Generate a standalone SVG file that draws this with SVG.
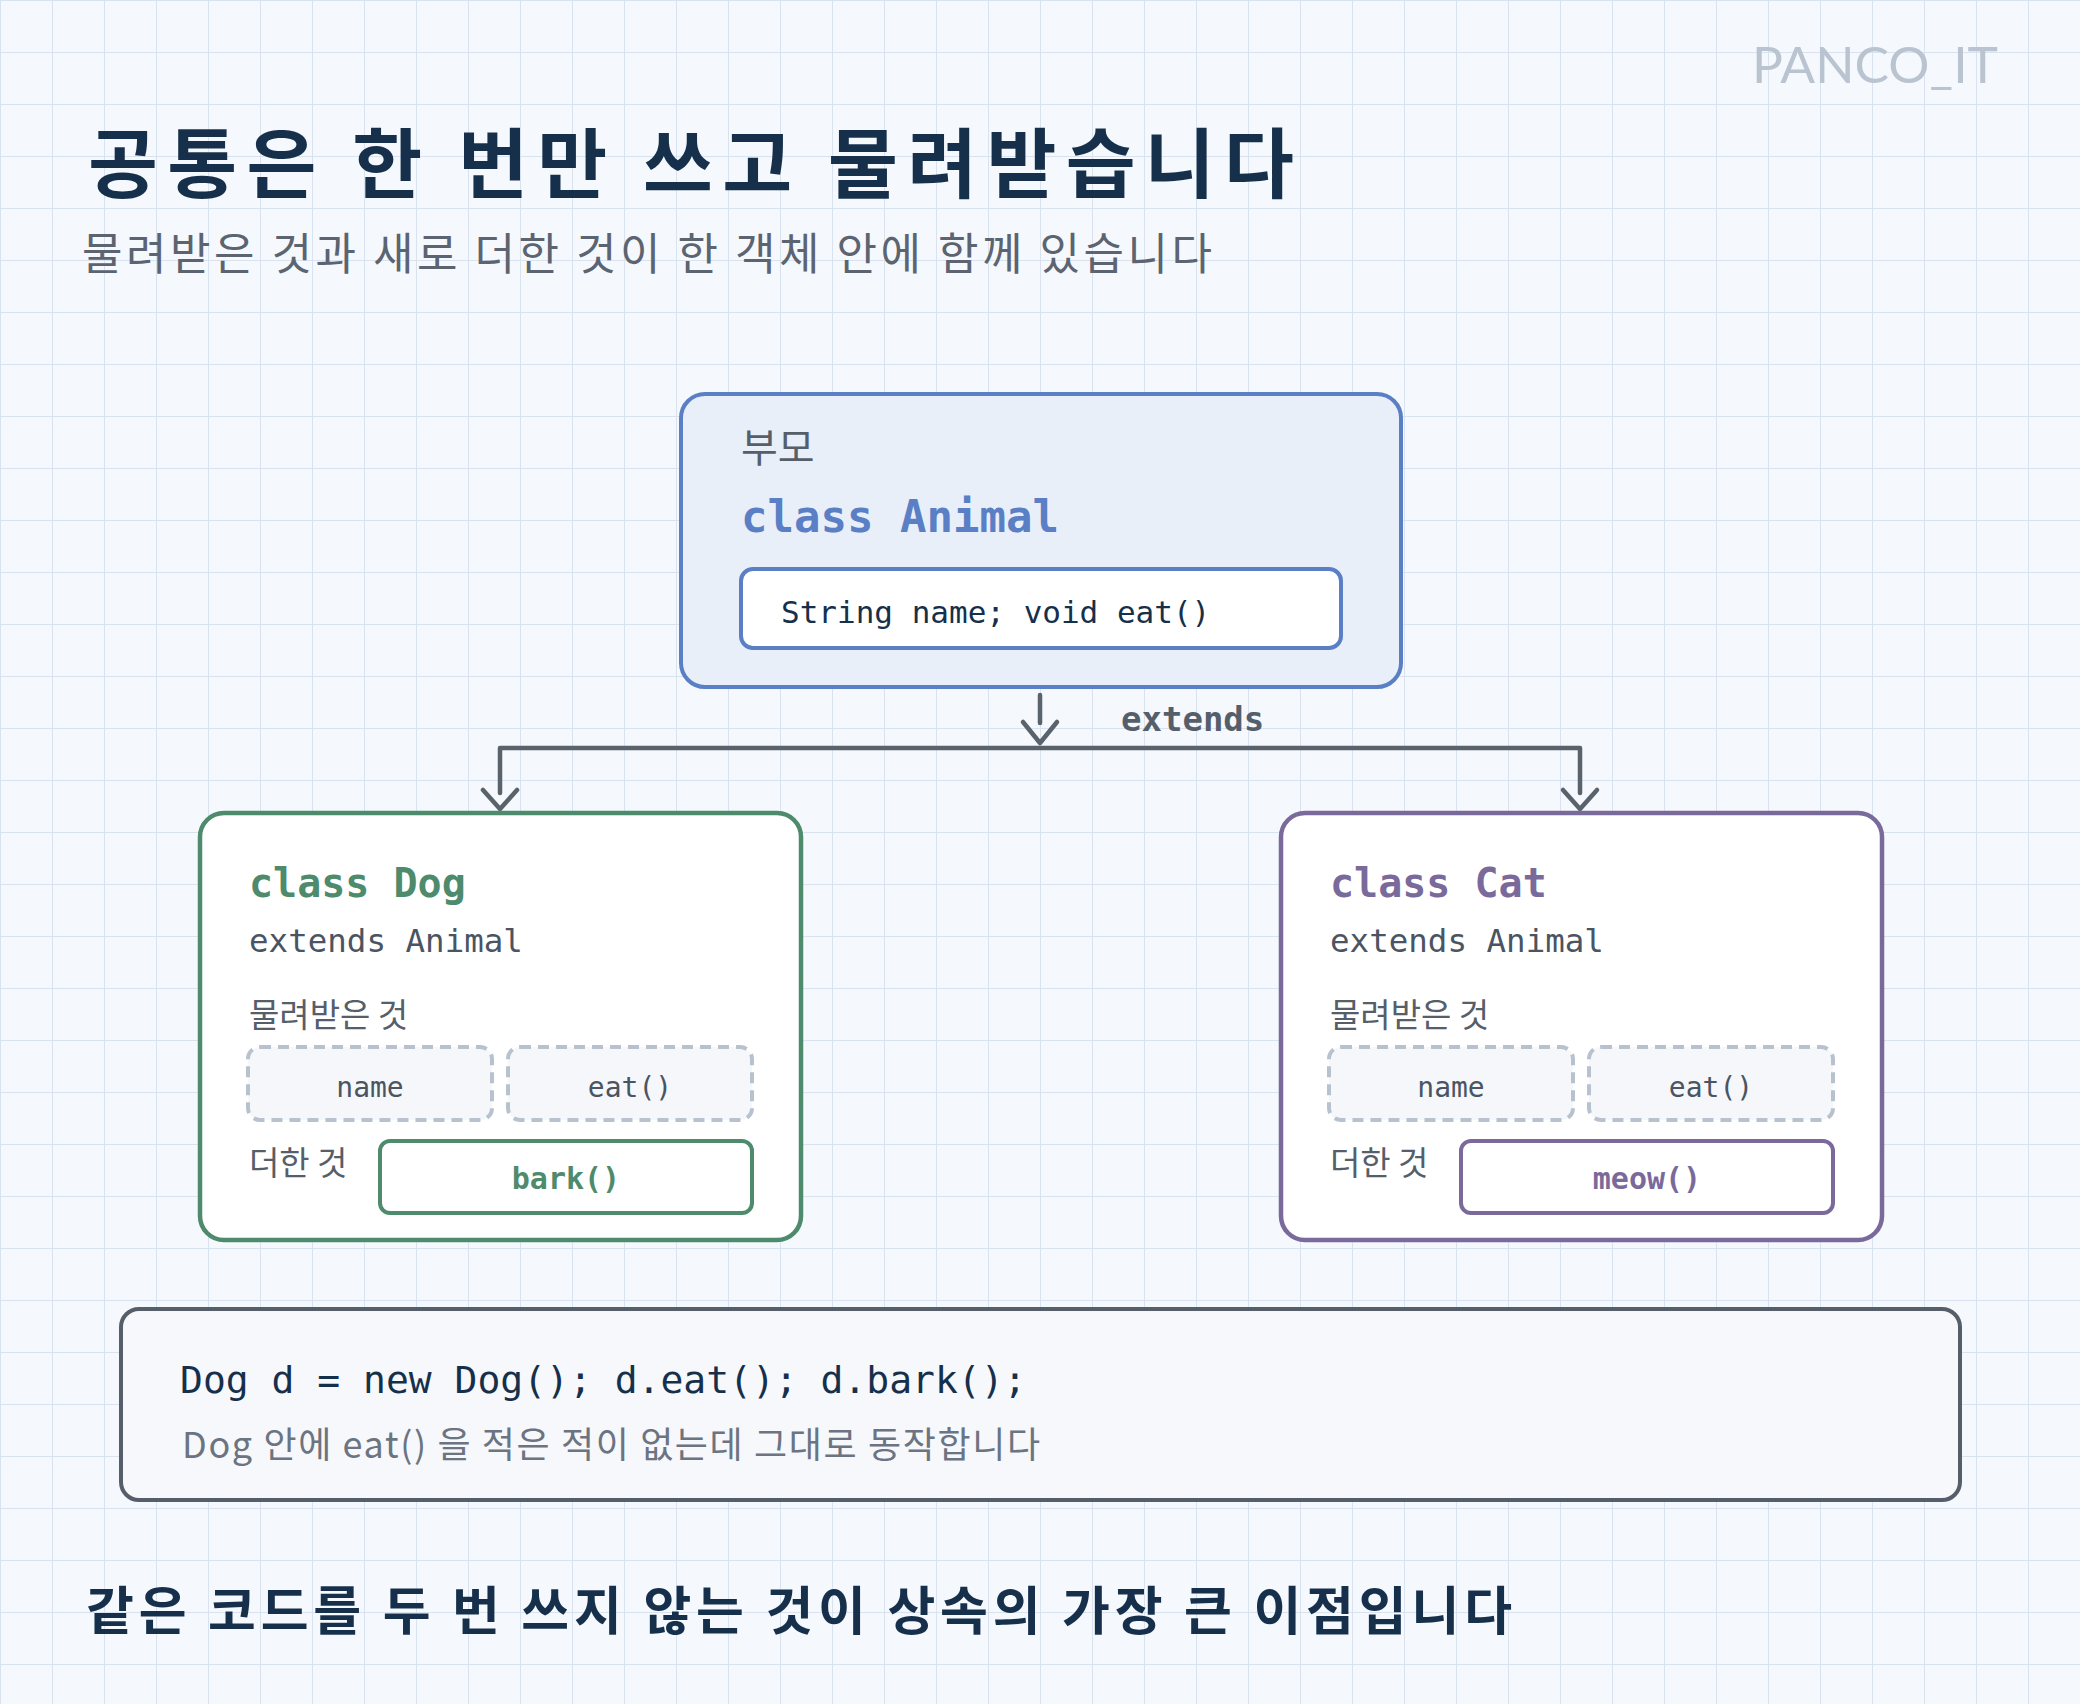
<svg xmlns="http://www.w3.org/2000/svg" width="2080" height="1704" viewBox="0 0 2080 1704">
  <defs>
    <pattern id="grid" x="0" y="0" width="52" height="52" patternUnits="userSpaceOnUse">
      <path d="M0 0.5 H52 M0.5 0 V52" fill="none" stroke="#d9e3ef" stroke-width="1"/>
    </pattern>
    <style>
      .hand { font-family: "Noto Sans CJK KR", "Noto Sans", sans-serif; font-weight: 700; fill: #16304c; }
      .sans { font-family: "Noto Sans CJK KR", "Noto Sans", sans-serif; }
      .mono { font-family: "DejaVu Sans Mono", "Liberation Mono", "Noto Sans CJK KR", monospace; }
      .lbl { font-family: "Noto Sans CJK KR", "Noto Sans", sans-serif; font-size: 33px; fill: #555e69; }
      .ext { font-family: "DejaVu Sans Mono", "Liberation Mono", monospace; font-size: 32.5px; fill: #4a5462; }
      .inh { fill: #f5f7fb; stroke: #b8c2ce; stroke-width: 4; stroke-dasharray: 11 7; }
      .inht { font-family: "DejaVu Sans Mono", "Liberation Mono", monospace; font-size: 28px; fill: #4a5462; text-anchor: middle; }
      .conn { fill: none; stroke: #5a626b; stroke-width: 4.5; stroke-linecap: round; stroke-linejoin: round; }
    </style>
  </defs>

  <rect x="0" y="0" width="2080" height="1704" fill="#f5f8fc"/>
  <rect x="0" y="0" width="2080" height="1704" fill="url(#grid)"/>

  <text x="1998" y="83" text-anchor="end" font-family="Lato, 'Open Sans', sans-serif" font-weight="400" font-size="50" fill="#bac4d0" textLength="246" lengthAdjust="spacingAndGlyphs">PANCO_IT</text>

  <text class="hand" x="88" y="192" font-size="76" textLength="1206" lengthAdjust="spacing">공통은 한 번만 쓰고 물려받습니다</text>
  <text class="sans" x="82" y="270" font-size="44" font-weight="400" fill="#5b6470" textLength="1130" lengthAdjust="spacing">물려받은 것과 새로 더한 것이 한 객체 안에 함께 있습니다</text>

  <g id="connectors">
    <path class="conn" d="M1040 695 V723"/>
    <path class="conn" d="M1023 722 L1040 743 L1057 722"/>
    <path class="conn" d="M500 793 V748 H1580 V793"/>
    <path class="conn" d="M483 790 L500 809 L517 790"/>
    <path class="conn" d="M1563 790 L1580 809 L1597 790"/>
    <text class="mono" x="1121" y="731" font-size="34" font-weight="700" fill="#555f6b">extends</text>
  </g>

  <g id="animal">
    <rect x="681" y="394" width="720" height="293" rx="24" fill="#e8eff9" stroke="#5b7fc4" stroke-width="4"/>
    <text class="sans" x="741" y="462" font-size="40" fill="#555e69">부모</text>
    <text class="mono" x="741" y="532" font-size="44" font-weight="700" fill="#5b7fc4">class Animal</text>
    <rect x="741" y="569" width="600" height="79" rx="12" fill="#ffffff" stroke="#5b7fc4" stroke-width="4"/>
    <text class="mono" x="781" y="623" font-size="31" fill="#16304c">String name; void eat()</text>
  </g>

  <g id="dog">
    <rect x="200" y="813" width="601" height="427" rx="24" fill="#ffffff" stroke="#4e8a6c" stroke-width="4.5"/>
    <text class="mono" x="249" y="897" font-size="40" font-weight="700" fill="#4e8a6c">class Dog</text>
    <text class="ext" x="249" y="952">extends Animal</text>
    <text class="lbl" x="249" y="1027">물려받은 것</text>
    <rect class="inh" x="248" y="1047" width="244" height="73" rx="12"/>
    <text class="inht" x="370" y="1097">name</text>
    <rect class="inh" x="508" y="1047" width="244" height="73" rx="12"/>
    <text class="inht" x="630" y="1097">eat()</text>
    <text class="lbl" x="249" y="1175">더한 것</text>
    <rect x="380" y="1141" width="372" height="72" rx="10" fill="#ffffff" stroke="#4e8a6c" stroke-width="4"/>
    <text class="mono" x="566" y="1189" font-size="30" font-weight="700" fill="#4e8a6c" text-anchor="middle">bark()</text>
  </g>

  <g id="cat">
    <rect x="1281" y="813" width="601" height="427" rx="24" fill="#ffffff" stroke="#7a6a9c" stroke-width="4.5"/>
    <text class="mono" x="1330" y="897" font-size="40" font-weight="700" fill="#7a6a9c">class Cat</text>
    <text class="ext" x="1330" y="952">extends Animal</text>
    <text class="lbl" x="1330" y="1027">물려받은 것</text>
    <rect class="inh" x="1329" y="1047" width="244" height="73" rx="12"/>
    <text class="inht" x="1451" y="1097">name</text>
    <rect class="inh" x="1589" y="1047" width="244" height="73" rx="12"/>
    <text class="inht" x="1711" y="1097">eat()</text>
    <text class="lbl" x="1330" y="1175">더한 것</text>
    <rect x="1461" y="1141" width="372" height="72" rx="10" fill="#ffffff" stroke="#7a6a9c" stroke-width="4"/>
    <text class="mono" x="1647" y="1189" font-size="30" font-weight="700" fill="#7a6a9c" text-anchor="middle">meow()</text>
  </g>

  <g id="usage">
    <rect x="121" y="1309" width="1839" height="191" rx="18" fill="#f6f8fc" stroke="#565f69" stroke-width="4"/>
    <text class="mono" x="180" y="1393" font-size="38" fill="#16304c">Dog d = new Dog(); d.eat(); d.bark();</text>
    <text class="sans" x="182" y="1458" font-size="36" fill="#6b7480" textLength="858" lengthAdjust="spacing">Dog 안에 eat() 을 적은 적이 없는데 그대로 동작합니다</text>
  </g>

  <text class="hand" x="86" y="1630" font-size="52" textLength="1426" lengthAdjust="spacing">같은 코드를 두 번 쓰지 않는 것이 상속의 가장 큰 이점입니다</text>
</svg>
